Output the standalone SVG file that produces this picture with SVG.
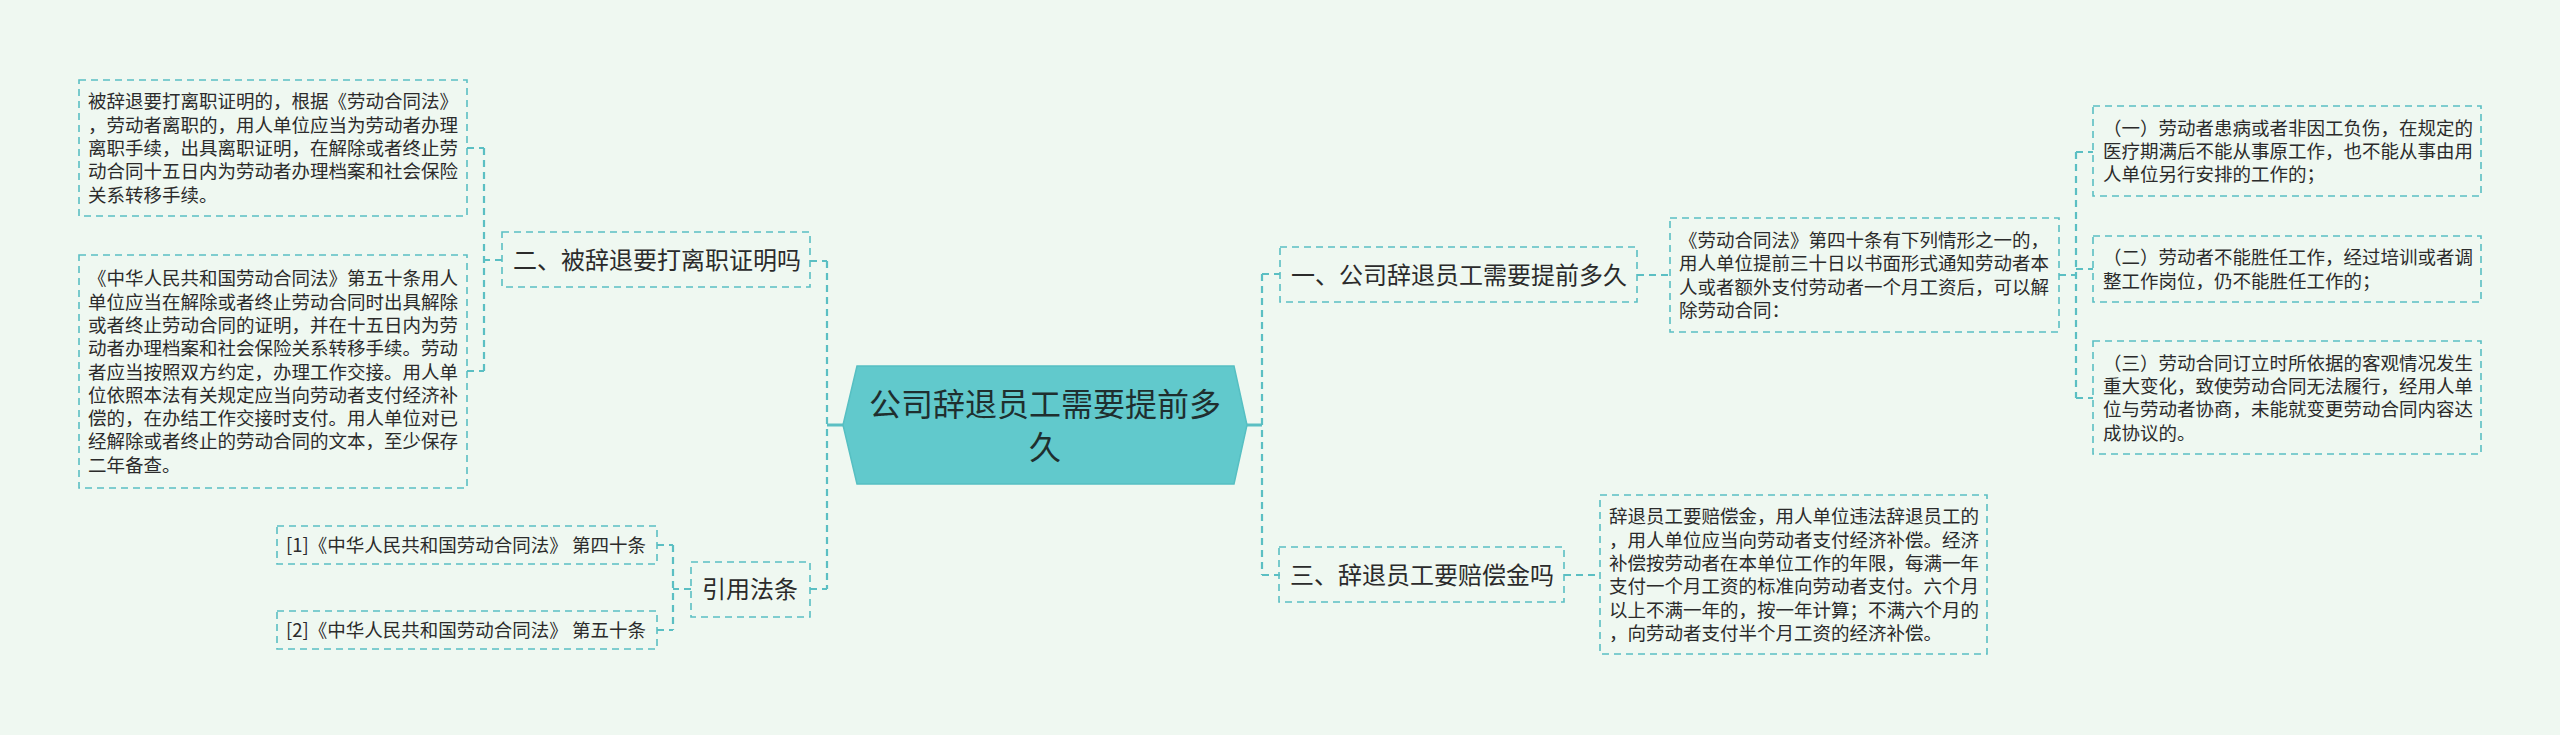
<svg xmlns="http://www.w3.org/2000/svg" width="2560" height="735" viewBox="0 0 2560 735">
<style>
.bx{fill:none;stroke:#5bbfc3;stroke-width:1.6;stroke-dasharray:7 5}
.cn{fill:none;stroke:#5bbfc3;stroke-width:2.2;stroke-dasharray:7 5}
.cs{fill:none;stroke:#5bbfc3;stroke-width:3}
.t1{font-family:"Noto Sans CJK SC","Liberation Sans",sans-serif;font-size:24px;fill:#2b2b2b}
.t2{font-family:"Noto Sans CJK SC","Liberation Sans",sans-serif;font-size:18.5px;fill:#2b2b2b}
.t0{font-family:"Noto Sans CJK SC","Liberation Sans",sans-serif;font-size:32px;fill:#1f2f2f}
</style>
<rect width="2560" height="735" fill="#eff8f1"/>
<g id="connectors">
<path class="cs" d="M843 425H827M1247 425H1262"/>
<path class="cn" d="M827 261V589M810 261H827M810 589H827"/>
<path class="cn" d="M1262 274V575M1262 274H1280M1262 575H1280"/>
<path class="cn" d="M502 260H484M484 148V371M467 148H484M467 371H484"/>
<path class="cn" d="M691 589H673M673 545V630M657 545H673M657 630H673"/>
<path class="cn" d="M1637 275H1670M1564 575H1600"/>
<path class="cn" d="M2059 275H2076M2076 152V398M2076 152H2093M2076 269H2093M2076 398H2093"/>
</g>
<g id="root">
<polygon points="857,366 1234,366 1247,425 1234,484 857,484 843,425" fill="#61c9cc" stroke="#56bfc2" stroke-width="1.5"/>
<text class="t0" x="1045" y="416" text-anchor="middle">公司辞退员工需要提前多</text>
<text class="t0" x="1045" y="459" text-anchor="middle">久</text>
</g>
<g id="n2">
<rect class="bx" x="502" y="232" width="308" height="55"/>
<text class="t1" x="513" y="268.5">二、被辞退要打离职证明吗</text>
</g>
<g id="n2a">
<rect class="bx" x="79" y="80" width="388" height="136"/>
<text class="t2" x="88"><tspan x="88" y="108.4">被辞退要打离职证明的，根据《劳动合同法》</tspan><tspan x="88" y="131.7">，劳动者离职的，用人单位应当为劳动者办理</tspan><tspan x="88" y="155">离职手续，出具离职证明，在解除或者终止劳</tspan><tspan x="88" y="178.3">动合同十五日内为劳动者办理档案和社会保险</tspan><tspan x="88" y="201.6">关系转移手续。</tspan></text>
</g>
<g id="n2b">
<rect class="bx" x="79" y="255" width="388" height="233"/>
<text class="t2"><tspan x="88" y="285.3">《中华人民共和国劳动合同法》第五十条用人</tspan><tspan x="88" y="308.6">单位应当在解除或者终止劳动合同时出具解除</tspan><tspan x="88" y="331.9">或者终止劳动合同的证明，并在十五日内为劳</tspan><tspan x="88" y="355.2">动者办理档案和社会保险关系转移手续。劳动</tspan><tspan x="88" y="378.5">者应当按照双方约定，办理工作交接。用人单</tspan><tspan x="88" y="401.8">位依照本法有关规定应当向劳动者支付经济补</tspan><tspan x="88" y="425.1">偿的，在办结工作交接时支付。用人单位对已</tspan><tspan x="88" y="448.4">经解除或者终止的劳动合同的文本，至少保存</tspan><tspan x="88" y="471.7">二年备查。</tspan></text>
</g>
<g id="n4">
<rect class="bx" x="691" y="562" width="119" height="55"/>
<text class="t1" x="702" y="598">引用法条</text>
</g>
<g id="n4a">
<rect class="bx" x="277" y="526" width="380" height="38"/>
<text class="t2" x="286" y="552">[1]《中华人民共和国劳动合同法》 第四十条</text>
</g>
<g id="n4b">
<rect class="bx" x="277" y="611" width="380" height="38"/>
<text class="t2" x="286" y="637">[2]《中华人民共和国劳动合同法》 第五十条</text>
</g>
<g id="n1">
<rect class="bx" x="1280" y="247" width="357" height="55"/>
<text class="t1" x="1291" y="283.5">一、公司辞退员工需要提前多久</text>
</g>
<g id="n1a">
<rect class="bx" x="1670" y="218" width="389" height="114"/>
<text class="t2"><tspan x="1679" y="247">《劳动合同法》第四十条有下列情形之一的，</tspan><tspan x="1679" y="270.3">用人单位提前三十日以书面形式通知劳动者本</tspan><tspan x="1679" y="293.6">人或者额外支付劳动者一个月工资后，可以解</tspan><tspan x="1679" y="316.9">除劳动合同：</tspan></text>
</g>
<g id="n1a1">
<rect class="bx" x="2093" y="106" width="388" height="90"/>
<text class="t2"><tspan x="2103" y="134.6">（一）劳动者患病或者非因工负伤，在规定的</tspan><tspan x="2103" y="157.9">医疗期满后不能从事原工作，也不能从事由用</tspan><tspan x="2103" y="181.2">人单位另行安排的工作的；</tspan></text>
</g>
<g id="n1a2">
<rect class="bx" x="2093" y="236" width="388" height="66"/>
<text class="t2"><tspan x="2103" y="264.4">（二）劳动者不能胜任工作，经过培训或者调</tspan><tspan x="2103" y="287.7">整工作岗位，仍不能胜任工作的；</tspan></text>
</g>
<g id="n1a3">
<rect class="bx" x="2093" y="341" width="388" height="113"/>
<text class="t2"><tspan x="2103" y="369.7">（三）劳动合同订立时所依据的客观情况发生</tspan><tspan x="2103" y="393">重大变化，致使劳动合同无法履行，经用人单</tspan><tspan x="2103" y="416.3">位与劳动者协商，未能就变更劳动合同内容达</tspan><tspan x="2103" y="439.6">成协议的。</tspan></text>
</g>
<g id="n3">
<rect class="bx" x="1279" y="547" width="285" height="55"/>
<text class="t1" x="1290" y="583.5">三、辞退员工要赔偿金吗</text>
</g>
<g id="n3a">
<rect class="bx" x="1600" y="495" width="387" height="159"/>
<text class="t2"><tspan x="1609" y="523.3">辞退员工要赔偿金，用人单位违法辞退员工的</tspan><tspan x="1609" y="546.6">，用人单位应当向劳动者支付经济补偿。经济</tspan><tspan x="1609" y="569.9">补偿按劳动者在本单位工作的年限，每满一年</tspan><tspan x="1609" y="593.2">支付一个月工资的标准向劳动者支付。六个月</tspan><tspan x="1609" y="616.5">以上不满一年的，按一年计算；不满六个月的</tspan><tspan x="1609" y="639.8">，向劳动者支付半个月工资的经济补偿。</tspan></text>
</g>
</svg>
